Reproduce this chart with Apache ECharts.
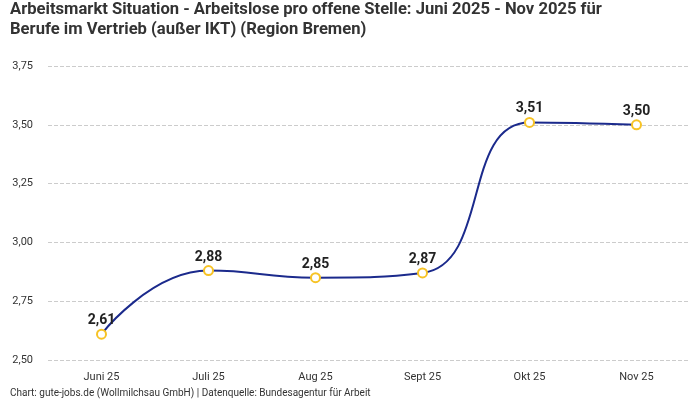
<!DOCTYPE html>
<html>
<head>
<meta charset="utf-8">
<script src="https://cdn.jsdelivr.net/npm/echarts@6/dist/echarts.min.js"></script>
<style>
    html, body {margin: 0; padding: 0; background: #fff;}
    #chart {width: 700px; height: 400px;}
</style>
</head>
<body>
<div id="chart"></div>
<script>
    const months = ['Juni 25', 'Juli 25', 'Aug 25', 'Sept 25', 'Okt 25', 'Nov 25'];
    const ratio = [2.61, 2.88, 2.85, 2.87, 3.51, 3.50];
    const yMin = 2.5;
    const yMax = 3.75;
    const yStep = 0.25;

    const fmt = v => v.toFixed(2).replace('.', ',');

    let myChart = echarts.init(document.getElementById('chart'));
    myChart.setOption({
        animation: false,
        textStyle: {fontFamily: 'Roboto'},
        title: {
            text: 'Arbeitsmarkt Situation - Arbeitslose pro offene Stelle: Juni 2025 - Nov 2025 für\nBerufe im Vertrieb (außer IKT) (Region Bremen)',
            left: 10,
            top: 0,
            padding: 0,
            textStyle: {fontSize: 16.6, fontWeight: 'bold', color: '#333', lineHeight: 20}
        },
        graphic: [{
            type: 'text',
            left: 10,
            top: 388,
            style: {
                text: 'Chart: gute-jobs.de (Wollmilchsau GmbH) | Datenquelle: Bundesagentur für Arbeit',
                fontSize: 10,
                fill: '#333',
                fontFamily: 'Roboto'
            }
        }],
        grid: {left: 48, right: 10, top: 66, bottom: 40},
        xAxis: {
            type: 'category',
            data: months,
            boundaryGap: true,
            axisLine: {show: false},
            axisTick: {show: false},
            axisLabel: {color: '#333', fontSize: 11, margin: 12}
        },
        yAxis: {
            type: 'value',
            min: yMin,
            max: yMax,
            interval: yStep,
            axisLabel: {color: '#333', fontSize: 11, margin: 15, formatter: v => fmt(v)},
            splitLine: {lineStyle: {type: 'dashed', color: '#ccc'}}
        },
        series: [{
            type: 'line',
            data: ratio,
            smooth: true,
            symbol: 'circle',
            symbolSize: 9,
            lineStyle: {color: '#1b2a8c', width: 2},
            itemStyle: {color: '#fff', borderColor: '#f7c325', borderWidth: 2},
            label: {
                show: true,
                position: 'top',
                distance: 1,
                fontSize: 14,
                fontWeight: 'bold',
                color: '#222',
                formatter: p => fmt(p.value)
            }
        }]
    });
</script>
</body>
</html>
